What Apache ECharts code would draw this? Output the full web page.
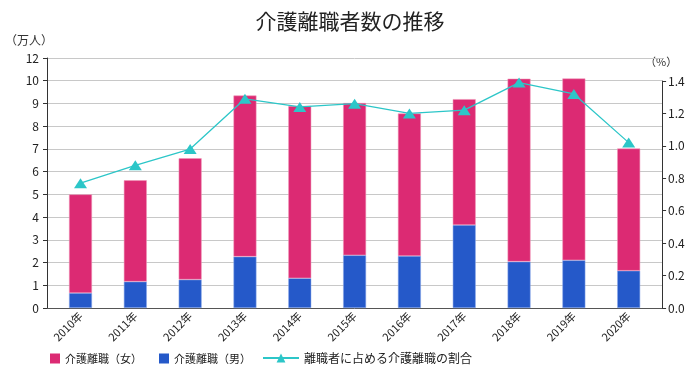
<!DOCTYPE html>
<html>
<head>
<meta charset="utf-8">
<script src="https://cdn.jsdelivr.net/npm/echarts@6/dist/echarts.min.js"></script>
<style>html,body{margin:0;padding:0;background:#fff}#c{width:700px;height:372px}</style>
</head>
<body>
<div id="c"></div>
<script>
const categories = ['2010年','2011年','2012年','2013年','2014年','2015年','2016年','2017年','2018年','2019年','2020年'];
const male = [0.66, 1.16, 1.25, 2.26, 1.31, 2.32, 2.29, 3.65, 2.04, 2.10, 1.64];
const female = [4.34, 4.46, 5.34, 7.09, 7.58, 6.70, 6.27, 5.54, 8.05, 8.00, 5.38];
const ratio = [0.77, 0.88, 0.98, 1.29, 1.24, 1.26, 1.20, 1.22, 1.39, 1.32, 1.02];
const leftTickLabels = ['0','1','2','3','4','5','6','7','8','9','10','12'];
const rightTickLabels = ['0.0','0.2','0.4','0.6','0.8','1.0','1.2','1.4'];

const FONT = '"Noto Sans CJK JP", "Noto Sans", sans-serif';
const PINK = '#dc2a73', BLUE = '#2559c9', TEAL = '#2cc6c8';
const chart = echarts.init(document.getElementById('c'));
const L0 = 47, R0 = 38, L1 = 53.1, R1 = 43.9, TOP = 58, TOP2 = 81, BOT = 64;

chart.setOption({
  animation: false,
  textStyle: {fontFamily: FONT},
  title: {text: '介護離職者数の推移', left: 'center', top: 6,
    textStyle: {fontSize: 21, fontWeight: 'normal', color: '#222', fontFamily: FONT}},
  graphic: [
    {type: 'text', left: 5, top: 34, style: {text: '（万人）', fontSize: 12, fill: '#333', fontFamily: FONT}},
    {type: 'text', left: 645, top: 56, style: {text: '（%）', fontSize: 11, fill: '#333', fontFamily: FONT}}
  ],
  legend: [
    {data: ['介護離職（女）', '介護離職（男）'], left: 45, top: 348, itemWidth: 10, itemHeight: 10,
      itemGap: 17, icon: 'rect', itemStyle: {borderWidth: 0},
      textStyle: {fontSize: 11, color: '#222', fontFamily: FONT}},
    {data: ['離職者に占める介護離職の割合'], left: 257, top: 347, itemWidth: 36, itemHeight: 11,
      textStyle: {fontSize: 12, color: '#222', fontFamily: FONT}}
  ],
  grid: [
    {left: L0, right: R0, top: TOP, bottom: BOT},
    {left: L1, right: R1, top: TOP, bottom: BOT},
    {left: L1, right: R1, top: TOP2, bottom: BOT}
  ],
  xAxis: [
    {gridIndex: 0, type: 'value', min: 0, max: 1, axisLine: {show: true, lineStyle: {color: '#555', width: 1}},
      axisTick: {show: false}, axisLabel: {show: false}, splitLine: {show: false}},
    {gridIndex: 1, type: 'category', data: categories, axisLine: {show: false}, axisTick: {show: false},
      axisLabel: {rotate: 45, fontSize: 11, color: '#222', margin: 6, interval: 0}},
    {gridIndex: 2, type: 'category', data: categories, show: false}
  ],
  yAxis: [
    {gridIndex: 0, type: 'value', min: 0, max: 11, interval: 1,
      axisLine: {show: true, lineStyle: {color: '#333'}},
      axisTick: {show: true, length: 4, lineStyle: {color: '#333'}},
      axisLabel: {fontSize: 12, color: '#222', margin: 8, formatter: v => leftTickLabels[Math.round(v)]},
      splitLine: {show: true, lineStyle: {color: '#c8c8c8', width: 1}}},
    {gridIndex: 1, type: 'value', min: 0, max: 11, show: false},
    {gridIndex: 2, type: 'value', position: 'right', offset: 6, min: 0, max: 1.4, interval: 0.2,
      axisLine: {show: true, lineStyle: {color: '#333'}},
      axisTick: {show: true, length: 4, lineStyle: {color: '#333'}},
      axisLabel: {fontSize: 12, color: '#222', margin: 6, formatter: v => rightTickLabels[Math.round(v / 0.2)]},
      splitLine: {show: false}}
  ],
  series: [
    {name: '介護離職（男）', type: 'bar', xAxisIndex: 1, yAxisIndex: 1, stack: 'a', data: male, barWidth: 23,
      itemStyle: {color: BLUE, borderColor: 'rgba(140,170,235,0.9)', borderWidth: 0.6}},
    {name: '介護離職（女）', type: 'bar', xAxisIndex: 1, yAxisIndex: 1, stack: 'a', data: female, barWidth: 23,
      itemStyle: {color: PINK, borderColor: 'rgba(240,150,185,0.9)', borderWidth: 0.6}},
    {name: '離職者に占める介護離職の割合', type: 'line', xAxisIndex: 2, yAxisIndex: 2, data: ratio,
      symbol: 'triangle', symbolSize: [13, 10], lineStyle: {color: TEAL, width: 1.3},
      itemStyle: {color: TEAL}}
  ]
});
</script>
</body>
</html>
